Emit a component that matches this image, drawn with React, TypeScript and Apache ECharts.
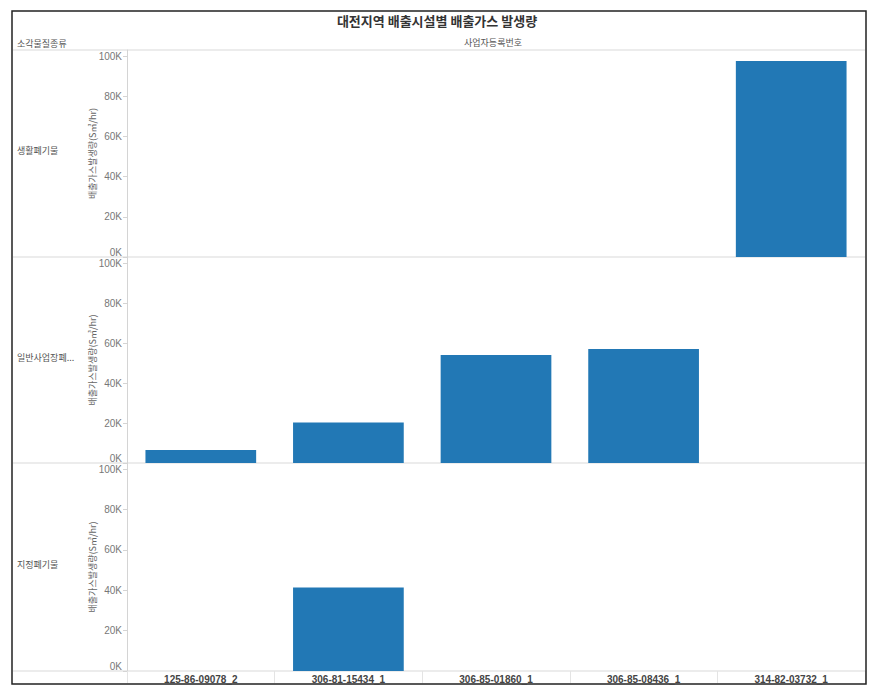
import React, { useEffect, useRef } from "react";
import * as echarts from "echarts";

const title = "대전지역 배출시설별 배출가스 발생량";
const rowHeader = "소각물질종류";
const colHeader = "사업자등록번호";
const yAxisName = "배출가스발생량(S㎥/hr)";
const categories = ["125-86-09078_2", "306-81-15434_1", "306-85-01860_1", "306-85-08436_1", "314-82-03732_1"];
const rowLabels = ["생활폐기물", "일반사업장폐...", "지정폐기물"];
const lifeWaste = [null, null, null, null, 97500];
const generalWaste = [6500, 20200, 54000, 57000, null];
const designatedWaste = [null, 41400, null, null, null];
const seriesData = [lifeWaste, generalWaste, designatedWaste];

const FONT = "'Noto Sans CJK KR', 'Noto Sans', sans-serif";
const panels = [
  { top: 50, height: 207 },
  { top: 257, height: 206 },
  { top: 463, height: 208 },
];

export default function App() {
  const ref = useRef<HTMLDivElement>(null);
  useEffect(() => {
    document.body.style.margin = "0";
    const chart = echarts.init(ref.current!, null, { renderer: "svg" });
    const grids = panels.map((p) => ({ left: 127, right: 24, top: p.top, height: p.height }));
    const xAxes = panels.map((_, i) => ({
      type: "category",
      gridIndex: i,
      data: categories,
      axisLine: { show: false },
      axisTick: i === 2 ? { show: true, length: 12, lineStyle: { color: "#e4e4e4" } } : { show: false },
      axisLabel: i === 2
        ? { show: true, margin: 3, color: "#444", fontSize: 10, fontWeight: "bold", fontFamily: "Arial, 'Liberation Sans', sans-serif" }
        : { show: false },
      splitLine: { show: false },
    }));
    const yAxes = panels.map((_, i) => ({
      type: "value",
      gridIndex: i,
      min: 0,
      max: 103000,
      interval: 20000,
      name: yAxisName,
      nameLocation: "middle",
      nameGap: 30,
      nameMoveOverlap: false,
      nameTextStyle: { color: "#666", fontSize: 9, fontFamily: FONT },
      axisLine: { show: true, lineStyle: { color: "#d4d4d4" } },
      axisTick: { show: true, length: 4, lineStyle: { color: "#d4d4d4" } },
      axisLabel: {
        color: "#777",
        fontSize: 10,
        margin: 5,
        fontFamily: "Arial, 'Liberation Sans', sans-serif",
        showMaxLabel: false,
        verticalAlignMinLabel: "bottom",
        formatter: (v: number) => (v % 20000 === 0 ? v / 1000 + "K" : ""),
      },
      splitLine: { show: false },
    }));
    const series = seriesData.map((d, i) => ({
      type: "bar",
      xAxisIndex: i,
      yAxisIndex: i,
      data: d,
      barWidth: "75%",
      itemStyle: { color: "#2278b5" },
    }));
    const lineStyle = { stroke: "#d9d9d9", lineWidth: 1 };
    const graphic: any[] = [
      { type: "rect", shape: { x: 12, y: 11, width: 854, height: 673 }, style: { fill: "none", stroke: "#222", lineWidth: 1.5 }, z: 10 },
      { type: "text", x: 437, y: 20, style: { text: title, fill: "#333", font: `bold 13px ${FONT}`, textAlign: "center", textVerticalAlign: "middle" } },
      { type: "text", x: 17, y: 43, style: { text: rowHeader, fill: "#555", font: `9px ${FONT}`, textAlign: "left", textVerticalAlign: "middle" } },
      { type: "text", x: 493, y: 42, style: { text: colHeader, fill: "#555", font: `9px ${FONT}`, textAlign: "center", textVerticalAlign: "middle" } },
      ...[50, 257, 463, 671].map((y) => ({ type: "line", shape: { x1: 13, y1: y, x2: 865, y2: y }, style: lineStyle })),
      ...panels.map((p, i) => ({
        type: "text",
        x: 17,
        y: p.top + p.height / 2 - 3,
        style: { text: rowLabels[i], fill: "#555", font: `9px ${FONT}`, textAlign: "left", textVerticalAlign: "middle" },
      })),
    ];
    chart.setOption({
      animation: false,
      grid: grids,
      xAxis: xAxes,
      yAxis: yAxes,
      series,
      graphic,
    });
    return () => chart.dispose();
  }, []);
  return <div ref={ref} style={{ width: 889, height: 690 }} />;
}
